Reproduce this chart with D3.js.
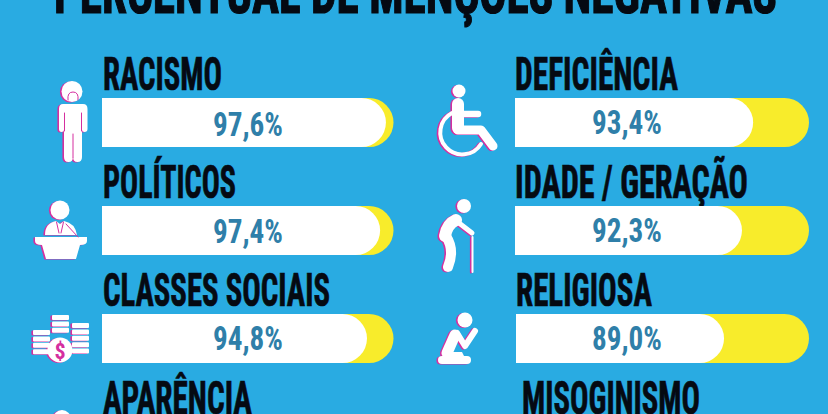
<!DOCTYPE html>
<html>
<head>
<meta charset="utf-8">
<script src="https://cdn.jsdelivr.net/npm/d3@7"></script>
<style>
html, body { margin: 0; padding: 0; background: #29abe2; overflow: hidden; }
text { font-family: "Liberation Sans Narrow", "Roboto Condensed", "Liberation Sans", sans-serif; }
</style>
</head>
<body>
<svg id="chart" width="828" height="414"></svg>
<script>
var titleText = "PERCENTUAL DE MENÇÕES NEGATIVAS";

// left column then right column, top to bottom
var leftCategories = ["RACISMO", "POLÍTICOS", "CLASSES SOCIAIS", "APARÊNCIA"];
var rightCategories = ["DEFICIÊNCIA", "IDADE / GERAÇÃO", "RELIGIOSA", "MISOGINISMO"];

// printed numbers; the last row of bars is cut off by the picture
var leftValues = [97.6, 97.4, 94.8, null];
var rightValues = [93.4, 92.3, 89.0, null];

// the white fills are not drawn to the printed number, so these are read off the bars
var leftFillLevels = [97.4, 95.4, 90.9, null];
var rightFillLevels = [81.0, 77.2, 71.0, null];

var leftIcons = ["person", "speaker", "coins", "face"];
var rightIcons = ["wheelchair", "elder", "prayer", null];

var W = 828, H = 414;
var C = { bg: "#29abe2", yellow: "#f8ec2b", white: "#ffffff", ink: "#050a12", num: "#2f7fa9", pink: "#d52f9f" };

var columns = [
	{
		cats: leftCategories, vals: leftValues, fills: leftFillLevels, icons: leftIcons,
		x0: [102, 102, 102], x1: 393.5, numX: 248, numBase: [136, 243, 350],
		labelX: [103, 103, 103, 103], labelW: [119, 133, 227, 149]
	},
	{
		cats: rightCategories, vals: rightValues, fills: rightFillLevels, icons: rightIcons,
		x0: [515, 515, 516], x1: 809, numX: 627, numBase: [133.5, 242, 350],
		labelX: [515, 515, 516, 522], labelW: [163, 233, 136, 178]
	}
];

var rowTop = d3.scalePoint().domain([0, 1, 2, 3]).range([98, 422]);
var barH = 49;
var r = barH / 2;

var svg = d3.select("#chart");
svg.append("rect").attr("width", W).attr("height", H).attr("fill", C.bg);

// bar with square left end and round right end
function barPath(x0, x1, y)
{
	return "M" + x0 + "," + y + "H" + (x1 - r) + "A" + r + "," + r + " 0 0 1 " + (x1 - r) + "," + (y + barH) + "H" + x0 + "Z";
}

// heading text: squeezed to a measured width and thickened a little
function fitText(sel, x, y, size, width, thick)
{
	return sel.attr("x", x).attr("y", y).attr("font-size", size).attr("font-weight", 700)
		.attr("stroke", C.ink).attr("stroke-width", thick)
		.attr("textLength", width).attr("lengthAdjust", "spacingAndGlyphs");
}

fitText(svg.append("text").text(titleText).attr("fill", C.ink), 54, 12.5, 60, 723, 1.2);

columns.forEach(function(col)
{
	col.cats.forEach(function(cat, i)
	{
		var top = rowTop(i);
		fitText(svg.append("text").text(cat).attr("fill", C.ink), col.labelX[i], top - 8, 47, col.labelW[i], 0.7);

		if (col.vals[i] == null) return;

		var x = d3.scaleLinear().domain([0, 100]).range([col.x0[i], col.x1]);
		svg.append("path").attr("d", barPath(x(0), x(100), top)).attr("fill", C.yellow);
		svg.append("path").attr("d", barPath(x(0), x(col.fills[i]), top)).attr("fill", C.white);

		svg.append("text")
			.text(col.vals[i].toFixed(1).replace(".", ",") + "%")
			.attr("x", col.numX).attr("y", col.numBase[i])
			.attr("text-anchor", "middle").attr("font-size", 34).attr("font-weight", 700)
			.attr("fill", C.num)
			.attr("textLength", 70).attr("lengthAdjust", "spacingAndGlyphs");
	});
});

// icons: each is drawn once in pink, nudged left, then again in white
function circle(g, cx, cy, rad)
{
	g.append("circle").attr("cx", cx).attr("cy", cy).attr("r", rad).attr("fill", "currentColor");
}
function shape(g, d)
{
	g.append("path").attr("d", d).attr("fill", "currentColor");
}
function line(g, d, w)
{
	g.append("path").attr("d", d).attr("fill", "none").attr("stroke", "currentColor")
		.attr("stroke-width", w).attr("stroke-linecap", "round").attr("stroke-linejoin", "round");
}
function detail(d, w)
{
	svg.append("path").attr("d", d).attr("fill", "none").attr("stroke", C.pink)
		.attr("stroke-width", w).attr("stroke-linecap", "round");
}

var iconDraw = {
	person: function(g)
	{
		circle(g, 72, 91.5, 10.5);
		shape(g, "M63,104H83Q87.5,104 87.5,109V129Q87.5,132 84.5,132Q82,132 82,130V157Q82,162 77.5,162Q73,162 73,157Q73,162 68.5,162Q64,162 64,157V130Q64,132 61.5,132Q59,132 59,129V109Q59,104 63,104Z");
	},
	speaker: function(g)
	{
		circle(g, 60, 210, 9.5);
		shape(g, "M45,235Q45,223 56,221L60,224L64,221Q75,223 77,235Z");
		shape(g, "M35,237H87V241Q87,245 80,245L76,259H46L42,245Q35,245 35,241Z");
	},
	coins: function(g)
	{
		[[33, 330, 4], [52, 315, 3], [72, 323, 5]].forEach(function(s)
		{
			d3.range(s[2]).forEach(function(k)
			{
				g.append("rect").attr("x", s[0]).attr("y", s[1] + k * 6.4).attr("width", 17).attr("height", 5).attr("rx", 1).attr("fill", "currentColor");
			});
		});
		circle(g, 60, 350, 12.5);
	},
	face: function(g)
	{
		circle(g, 62, 419, 9);
	},
	wheelchair: function(g)
	{
		circle(g, 459, 91, 6.5);
		line(g, "M452,113A22,22 0 1 0 481,144", 4);
		line(g, "M458,104V128", 12);
		line(g, "M458,130H481L493,146", 9);
		line(g, "M464,114H478", 6.5);
	},
	elder: function(g)
	{
		circle(g, 464, 206, 7);
		line(g, "M456,220Q447,224 445,236", 12);
		line(g, "M446,236Q455,250 448,267", 10);
		line(g, "M459,223L472,233", 5);
		line(g, "M472.5,237V272", 2);
	},
	prayer: function(g)
	{
		circle(g, 465, 320, 7.5);
		line(g, "M455,335L447,353", 11);
		line(g, "M442,360H467", 8);
		line(g, "M457,333L465,346L475,331", 6);
		shape(g, "M447,352L462,352L467,362H440Z");
	}
};

var iconNames = leftIcons.concat(rightIcons).filter(function(d) { return d != null; });

svg.selectAll("g.shadow").data(iconNames).enter().append("g")
	.attr("class", "shadow")
	.attr("transform", "translate(-1.6,0.5)")
	.style("color", C.pink)
	.each(function(d) { iconDraw[d](d3.select(this)); });

svg.selectAll("g.icon").data(iconNames).enter().append("g")
	.attr("class", "icon")
	.style("color", C.white)
	.each(function(d) { iconDraw[d](d3.select(this)); });

// small pink details on top of the white shapes
detail("M68,100Q67,92 73,92Q79,92 78,100", 1);
detail("M64.5,113V131M81.5,113V131M73,134V158", 1);
detail("M56.5,222L59,233M63.5,222L61,233M66,224L78,237", 1);

svg.append("text").text("$").attr("x", 60).attr("y", 358.5).attr("text-anchor", "middle")
	.attr("font-size", 22).attr("font-weight", 700).attr("fill", C.pink);
</script>
</body>
</html>
